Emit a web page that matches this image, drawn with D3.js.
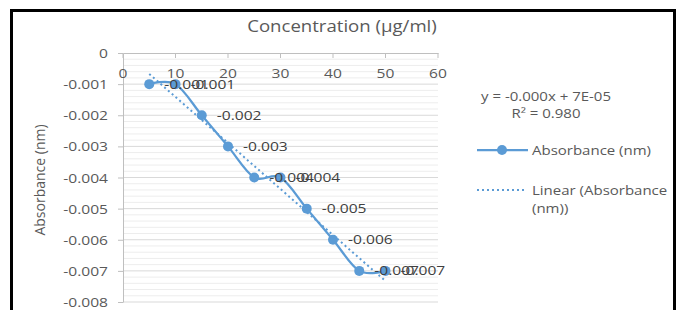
<!DOCTYPE html>
<html>
<head>
<meta charset="utf-8">
<script src="https://cdn.jsdelivr.net/npm/d3@7"></script>
<style>
  body { margin: 0; background: #fff; }
  svg { display: block; font-family: "Open Sans", sans-serif; }
</style>
</head>
<body>
<div id="chart"></div>
<script>
// data
const concentration = [5, 10, 15, 20, 25, 30, 35, 40, 45, 50];
const absorbance = [-0.001, -0.001, -0.002, -0.003, -0.004, -0.004, -0.005, -0.006, -0.007, -0.007];
const xTicks = [0, 10, 20, 30, 40, 50, 60];
const yTicks = [0, -0.001, -0.002, -0.003, -0.004, -0.005, -0.006, -0.007, -0.008];
const trendText = ["y = -0.000x + 7E-05", "R\u00b2 = 0.980"];
const legendText = ["Absorbance (nm)", "Linear (Absorbance", "(nm))"];

const W = 681, H = 310;
const SX = 1.2; // the source picture is stretched a bit horizontally
const blue = "#5B9BD5", textCol = "#595959";

const svg = d3.select("#chart").append("svg").attr("width", W).attr("height", H);
svg.append("rect").attr("width", W).attr("height", H).attr("fill", "#fff");

const x = d3.scaleLinear().domain([0, 60]).range([123, 438]);
const y = d3.scaleLinear().domain([0, -0.008]).range([53, 302]);

function label(g, px, py, s, size, anchor, fill) {
    return g.append("text")
        .attr("transform", `translate(${px},${py}) scale(${SX},1)`)
        .attr("font-size", size)
        .attr("text-anchor", anchor || "start")
        .attr("fill", fill || textCol)
        .text(s);
}

// minor + major gridlines
const minor = d3.range(0, 41).map(i => -i * 0.0002).filter((v, i) => i % 5 != 0);
svg.append("g").selectAll("line").data(minor).join("line")
    .attr("x1", x(0)).attr("x2", x(60))
    .attr("y1", d => y(d)).attr("y2", d => y(d))
    .attr("stroke", "#EDEDED").attr("stroke-width", 1);
svg.append("g").selectAll("line").data(yTicks.slice(1)).join("line")
    .attr("x1", x(0)).attr("x2", x(60))
    .attr("y1", d => y(d)).attr("y2", d => y(d))
    .attr("stroke", "#D9D9D9").attr("stroke-width", 1);

// y axis
const yAxis = svg.append("g").attr("transform", `translate(${x(0)},0)`)
    .call(d3.axisLeft(y).tickValues(yTicks).tickSize(5).tickSizeOuter(0)
        .tickFormat(d => d == 0 ? "0" : d.toFixed(3)));
yAxis.select(".domain").attr("stroke", "#BFBFBF");
yAxis.selectAll(".tick line").attr("stroke", "#BFBFBF");
yAxis.selectAll(".tick text")
    .attr("x", -12.5).attr("dy", "0.35em")
    .attr("transform", `scale(${SX},1)`)
    .attr("font-size", 13).attr("font-family", "Open Sans").attr("fill", textCol);

// x axis sits on the y = 0 line, labels under it
const xAxis = svg.append("g").attr("transform", `translate(0,${y(0)})`)
    .call(d3.axisBottom(x).tickValues(xTicks).tickSize(5).tickSizeOuter(0));
xAxis.select(".domain").attr("stroke", "#BFBFBF");
xAxis.selectAll(".tick line").attr("stroke", "#BFBFBF");
xAxis.selectAll(".tick text")
    .attr("y", 25).attr("dy", null)
    .attr("transform", `scale(${SX},1)`)
    .attr("font-size", 13).attr("font-family", "Open Sans").attr("fill", textCol);
xAxis.selectAll(".tick").each(function(d) {
    d3.select(this).select("text").attr("x", 0);
});
xAxis.selectAll(".tick").attr("transform", d => `translate(${x(d)},0)`);

// linear trendline from least squares on the data
const mx = d3.mean(concentration), my = d3.mean(absorbance);
const sxy = d3.sum(concentration, (c, i) => (c - mx) * (absorbance[i] - my));
const sxx = d3.sum(concentration, c => (c - mx) * (c - mx));
const slope = sxy / sxx, icpt = my - slope * mx;
const xr = d3.extent(concentration);
svg.append("line")
    .attr("x1", x(xr[0])).attr("y1", y(slope * xr[0] + icpt))
    .attr("x2", x(xr[1])).attr("y2", y(slope * xr[1] + icpt))
    .attr("stroke", blue).attr("stroke-width", 2)
    .attr("stroke-dasharray", "2,3");

// smoothed series line
const pts = concentration.map((c, i) => [c, absorbance[i]]);
svg.append("path").datum(pts)
    .attr("d", d3.line().x(d => x(d[0])).y(d => y(d[1])).curve(d3.curveCardinal.tension(0)))
    .attr("fill", "none").attr("stroke", blue).attr("stroke-width", 2.25);
svg.append("g").selectAll("circle").data(pts).join("circle")
    .attr("cx", d => x(d[0])).attr("cy", d => y(d[1])).attr("r", 5)
    .attr("fill", blue);

// data labels
const dl = svg.append("g");
pts.forEach(d => {
    label(dl, x(d[0]) + 15, y(d[1]) + 4.5, d[1].toFixed(3), 13, "start", "#404040");
});

// titles
label(svg, 342, 32, "Concentration (\u00b5g/ml)", 15.5, "middle");
svg.append("text")
    .attr("transform", "translate(45,180) rotate(-90)")
    .attr("font-size", 14).attr("text-anchor", "middle").attr("fill", textCol)
    .text("Absorbance (nm)");

// trendline equation
label(svg, 546, 101, trendText[0], 12.5, "middle");
label(svg, 546, 118, trendText[1], 12.5, "middle");

// legend
const lg = svg.append("g");
lg.append("line").attr("x1", 477).attr("x2", 528).attr("y1", 150).attr("y2", 150)
    .attr("stroke", blue).attr("stroke-width", 2.25);
lg.append("circle").attr("cx", 502).attr("cy", 150).attr("r", 5).attr("fill", blue);
label(lg, 532, 154.5, legendText[0], 12.5);
lg.append("line").attr("x1", 477).attr("x2", 526).attr("y1", 190).attr("y2", 190)
    .attr("stroke", blue).attr("stroke-width", 2).attr("stroke-dasharray", "2,3");
label(lg, 532, 194.5, legendText[1], 12.5);
label(lg, 532, 212.5, legendText[2], 12.5);

// outer frame
svg.append("rect").attr("x", 11.5).attr("y", 10.5).attr("width", 663).attr("height", 320)
    .attr("fill", "none").attr("stroke", "#000").attr("stroke-width", 3);
</script>
</body>
</html>
